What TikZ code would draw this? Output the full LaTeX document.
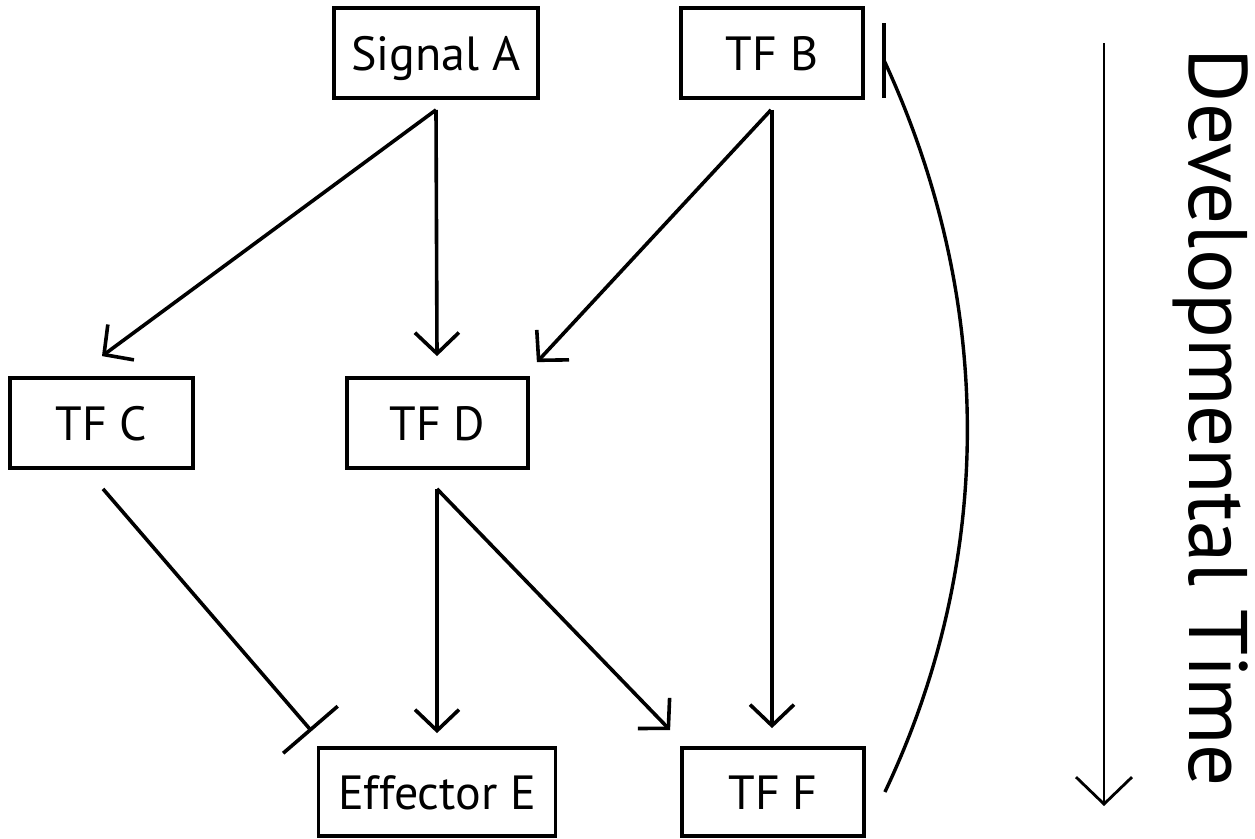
\documentclass[tikz,border=0pt]{standalone}
\usepackage{fontspec}
\setmainfont{PT Sans}
\usetikzlibrary{arrows.meta,calc}
\tikzset{
  gbox/.style={draw, line width=3.8pt, inner sep=0pt, text height=34pt, text depth=0pt, font=\fontsize{48}{58}\selectfont},
  act/.style={line width=3.6pt, -{Straight Barb[length=21pt,width=44pt,line cap=butt,line join=miter]}},
  inh/.style={line width=3.6pt, -{Bar[width=72pt,line cap=butt]}},
  plainline/.style={line width=3.4pt},
  timearrow/.style={line width=2.8pt, -{Straight Barb[length=27pt,width=56pt,line cap=butt,line join=miter]}},
}
\begin{document}
\begin{tikzpicture}[x=1pt,y=-1pt]
\useasboundingbox (0,0) rectangle (1255,838);
\fill[white] (0,0) rectangle (1255,838);
\node[gbox, minimum width=204pt, minimum height=90pt] (A) at (436,53) {Signal A};
\node[gbox, minimum width=182pt, minimum height=90pt] (B) at (772,53) {TF B};
\node[gbox, minimum width=183pt, minimum height=90pt] (C) at (101.5,423) {TF C};
\node[gbox, minimum width=181pt, minimum height=90pt] (D) at (437.5,423) {TF D};
\node[gbox, minimum width=237pt, minimum height=88pt] (E) at (437,792) {Effector E};
\node[gbox, minimum width=182pt, minimum height=88pt] (F) at (773,792) {TF F};

\draw[act] ($(A.south)+(0,10)$) -- ($(C.north)+(0.5,-20)$);
\draw[act] ($(A.south)+(0,10)$) -- ($(D.north)+(-0.5,-20)$);
\draw[act] ($(B.south)+(-1,10)$) -- ($(D.north east)+(7,-14)$);
\draw[act] ($(B.south)+(0,10)$) -- ($(F.north)+(-1,-18)$);
\draw[inh] ($(C.south)+(1.5,19)$) -- ($(E.north west)+(-5,-15)$);
\draw[act] ($(D.south)+(-0.5,19)$) -- ($(E.north)+(0,-13)$);
\draw[act] ($(D.south)+(-0.5,19)$) -- ($(F.north west)+(-10,-16)$);

\coordinate (Fout) at ($(F.east)+(19,0)$);
\coordinate (Bin) at ($(B.east)+(19,7)$);
\draw[plainline] (Fout) .. controls (995,560) and (995,300) .. (Bin);
\draw[plainline] ($(Bin)+(0,-37)$) -- ($(Bin)+(0,38)$);

\coordinate (T1) at (1104,43);
\coordinate (T2) at (1104,806);
\draw[timearrow] (T1) -- (T2);
\node[rotate=-90, anchor=base, inner sep=0pt, font=\fontsize{83}{93}\selectfont] (T) at (1189,418) {Developmental Time};
\end{tikzpicture}
\end{document}
